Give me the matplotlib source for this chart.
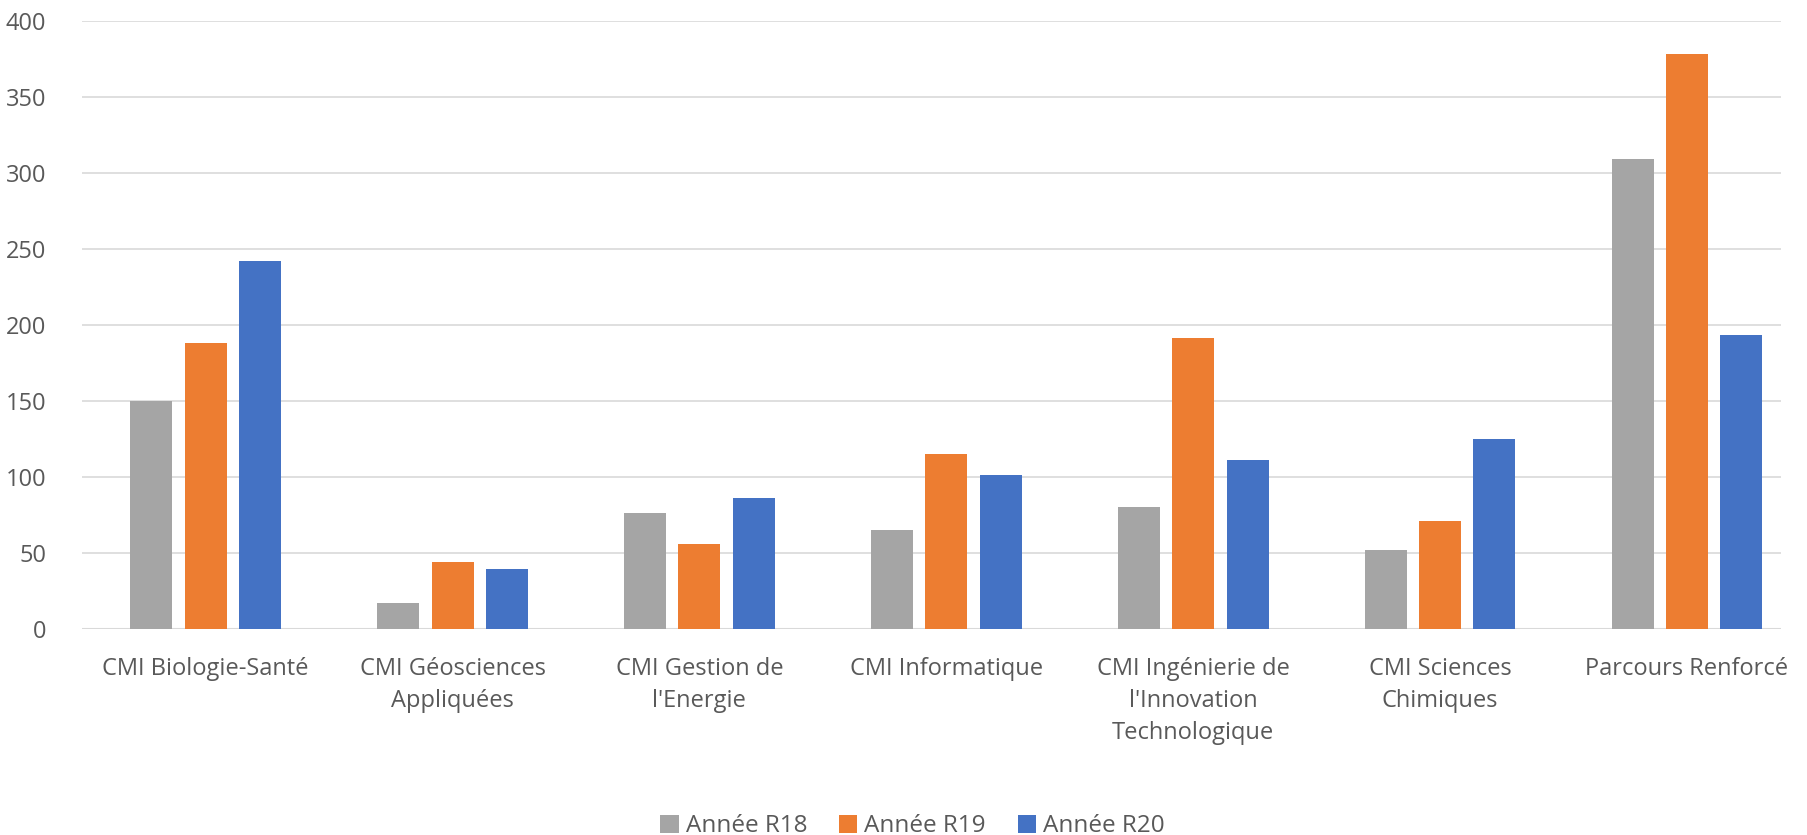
import matplotlib.pyplot as plt
import numpy as np

plt.rcParams['font.family'] = ['Open Sans', 'DejaVu Sans']

# Data
categories = [
    "CMI Biologie-Santé", "CMI Géosciences\nAppliquées", "CMI Gestion de\nl'Energie",
    "CMI Informatique", "CMI Ingénierie de\nl'Innovation\nTechnologique",
    "CMI Sciences\nChimiques", "Parcours Renforcé"
]
series_names = ["Année R18", "Année R19", "Année R20"]
r18 = [150, 17, 76, 65, 80, 52, 309]
r19 = [188, 44, 56, 115, 191, 71, 378]
r20 = [242, 39, 86, 101, 111, 125, 193]
colors = ['#a5a5a5', '#ed7d31', '#4472c4']

fig = plt.figure(figsize=(18.07, 8.35), dpi=100)
ax = fig.add_axes([0.0455, 0.247, 0.94, 0.728])

x = np.arange(len(categories))
width = 0.17
step = 0.22
for i, (vals, name, c) in enumerate(zip([r18, r19, r20], series_names, colors)):
    ax.bar(x + (i - 1) * step, vals, width, color=c, label=name, zorder=3)

ax.set_xlim(-0.5, 6.38)
ax.set_ylim(0, 400)
ax.set_yticks(range(0, 401, 50))
ax.grid(axis='y', color='#d9d9d9', linewidth=1.2, zorder=0)
for s in ax.spines.values():
    s.set_visible(False)
ax.axhline(0, color='#d9d9d9', linewidth=1.5, zorder=2)

ax.set_xticks(x)
ax.set_xticklabels(categories, linespacing=1.45)
ax.tick_params(axis='both', length=0, labelsize=17, labelcolor='#595959')
ax.tick_params(axis='x', pad=20)
ax.tick_params(axis='y', pad=26)

leg = fig.legend(loc='lower center', bbox_to_anchor=(0.505, -0.03), ncol=3, frameon=False,
                 fontsize=17.5, handlelength=0.75, handleheight=0.75, handletextpad=0.3,
                 columnspacing=1.3)
for t in leg.get_texts():
    t.set_color('#595959')

fig.savefig('out.png', dpi=100)
